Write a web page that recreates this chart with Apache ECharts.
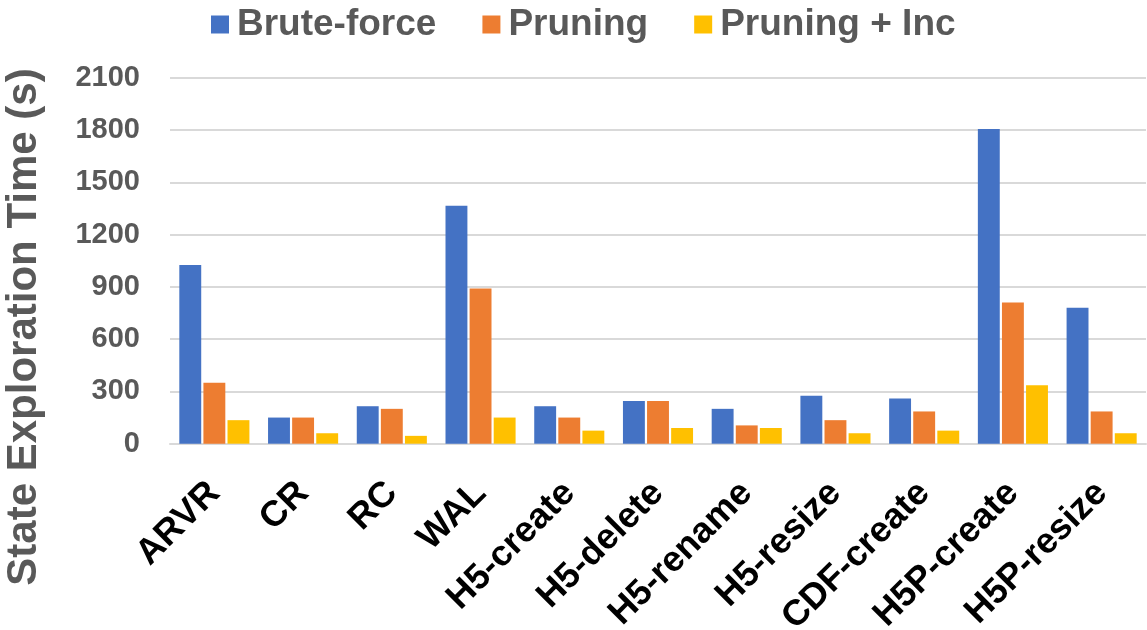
<!DOCTYPE html>
<html>
<head>
<meta charset="utf-8">
<script src="https://cdn.jsdelivr.net/npm/echarts@6/dist/echarts.min.js"></script>
<style>
  html, body { margin: 0; padding: 0; background: #ffffff; }
  #chart { width: 1147px; height: 630px; }
</style>
</head>
<body>
<div id="chart"></div>
<script>
// Workload names on the x axis
const categories = ['ARVR', 'CR', 'RC', 'WAL', 'H5-create', 'H5-delete', 'H5-rename',
  'H5-resize', 'CDF-create', 'H5P-create', 'H5P-resize'];

// State exploration time in seconds for each strategy
const bruteForce = [1025, 150, 215, 1365, 215, 245, 200, 275, 260, 1805, 780];
const pruning    = [350, 150, 200, 890, 150, 245, 105, 135, 185, 810, 185];
const pruningInc = [135, 60, 45, 150, 75, 90, 90, 60, 75, 335, 60];

// Y axis ticks
const yTicks = [0, 300, 600, 900, 1200, 1500, 1800, 2100];

const seriesNames = ['Brute-force', 'Pruning', 'Pruning + Inc'];
const seriesColors = ['#4472C4', '#ED7D31', '#FFC000'];
const seriesData = [bruteForce, pruning, pruningInc];

const yTitle = 'State Exploration Time (s)';

const FONT = '"Liberation Sans", Arial, sans-serif';

const chart = echarts.init(document.getElementById('chart'));
chart.setOption({
  animation: false,
  backgroundColor: '#ffffff',
  legend: {
    top: 1,
    left: 206,
    itemWidth: 18,
    itemHeight: 18,
    itemGap: 46,
    icon: 'rect',
    textStyle: { fontFamily: FONT, fontWeight: 'bold', fontSize: 37, color: '#595959', padding: [0, 0, 0, 3] },
    data: seriesNames
  },
  // vertical axis title, placed beside the tick labels
  graphic: [{
    type: 'text',
    x: 24,
    y: 327,
    rotation: Math.PI / 2,
    style: {
      text: yTitle,
      fontFamily: FONT,
      fontWeight: 'bold',
      fontSize: 42,
      fill: '#595959',
      align: 'center',
      verticalAlign: 'middle'
    }
  }],
  grid: { left: 170, right: 1, top: 77.7, bottom: 186.3, containLabel: false, outerBoundsMode: 'none' },
  xAxis: {
    type: 'category',
    data: categories,
    axisLine: { lineStyle: { color: '#d9d9d9', width: 2 } },
    axisTick: { show: false },
    axisLabel: {
      rotate: 45,
      interval: 0,
      margin: 44,
      fontFamily: FONT,
      fontWeight: 'bold',
      fontSize: 36,
      color: '#000000'
    }
  },
  yAxis: {
    type: 'value',
    min: yTicks[0],
    max: yTicks[yTicks.length - 1],
    interval: yTicks[1] - yTicks[0],
    axisLine: { show: false },
    axisTick: { show: false },
    axisLabel: {
      margin: 30,
      fontFamily: FONT,
      fontWeight: 'bold',
      fontSize: 29,
      color: '#595959',
      formatter: (v) => String(v)
    },
    splitLine: { lineStyle: { color: '#d9d9d9', width: 2 } }
  },
  series: seriesNames.map((name, i) => ({
    name: name,
    type: 'bar',
    data: seriesData[i],
    barGap: '10%',
    barCategoryGap: '21%',
    itemStyle: { color: seriesColors[i] }
  }))
});
</script>
</body>
</html>
